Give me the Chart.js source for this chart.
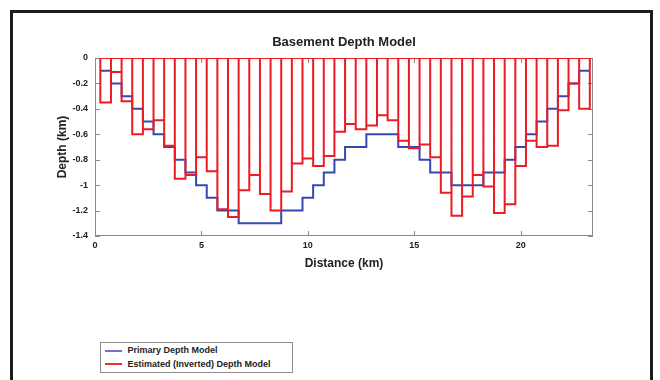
<!DOCTYPE html>
<html>
<head>
<meta charset="utf-8">
<script src="https://cdn.jsdelivr.net/npm/chart.js@4.4.0/dist/chart.umd.min.js"></script>
<style>
  body { margin: 0; background: #fff; }
  #wrap { position: relative; width: 660px; height: 380px; overflow: hidden; }
  #frame { position: absolute; left: 10px; top: 10px; width: 637px; height: 420px; border: 3px solid #1c1c1c; }
  canvas { position: absolute; left: 0; top: 0; }
  #legend { position: absolute; left: 100px; top: 342px; width: 193px; height: 31px; box-sizing: border-box;
            border: 1.5px solid #8c8c8c; background: #fff;
            font: bold 9px "Liberation Sans", Arial, sans-serif; color: #222; }
  .row { position: absolute; left: 3.5px; height: 12px; line-height: 12px; white-space: nowrap; }
  .row i { display: inline-block; width: 17px; height: 2px; vertical-align: middle; margin-right: 6px; }
</style>
</head>
<body>
<div id="wrap">
  <div id="frame"></div>
  <canvas id="grafico" width="660" height="380"></canvas>
  <div id="legend">
    <div class="row" style="top:1px"><i style="background:#6f74c4"></i>Primary Depth Model</div>
    <div class="row" style="top:14.5px"><i style="background:#e8303a"></i>Estimated (Inverted) Depth Model</div>
  </div>
</div>
<script>
// distancias (km) - centro de cada bloco
const distancia = [0.5, 1, 1.5, 2, 2.5, 3, 3.5, 4, 4.5, 5, 5.5, 6, 6.5, 7, 7.5, 8, 8.5, 9, 9.5, 10,
  10.5, 11, 11.5, 12, 12.5, 13, 13.5, 14, 14.5, 15, 15.5, 16, 16.5, 17, 17.5, 18, 18.5, 19, 19.5, 20,
  20.5, 21, 21.5, 22, 22.5, 23];
const profPrimaria = [-0.1, -0.2, -0.3, -0.4, -0.5, -0.6, -0.7, -0.8, -0.9, -1.0, -1.1, -1.2, -1.2, -1.3, -1.3, -1.3,
  -1.3, -1.2, -1.2, -1.1, -1.0, -0.9, -0.8, -0.7, -0.7, -0.6, -0.6, -0.6, -0.7, -0.7, -0.8, -0.9,
  -0.9, -1.0, -1.0, -1.0, -0.9, -0.9, -0.8, -0.7, -0.6, -0.5, -0.4, -0.3, -0.2, -0.1];
const profEstimada = [-0.35, -0.11, -0.34, -0.60, -0.56, -0.49, -0.69, -0.95, -0.92, -0.78, -0.89, -1.19, -1.25, -1.04, -0.92, -1.07,
  -1.20, -1.05, -0.83, -0.79, -0.85, -0.77, -0.58, -0.52, -0.56, -0.53, -0.45, -0.49, -0.65, -0.71, -0.68, -0.78,
  -1.06, -1.24, -1.09, -0.92, -1.01, -1.22, -1.15, -0.85, -0.65, -0.70, -0.69, -0.41, -0.20, -0.40];
const ticksX = [0, 5, 10, 15, 20];
const ticksY = [0, -0.2, -0.4, -0.6, -0.8, -1, -1.2, -1.4];
const larguraBloco = 0.5;
const meio = larguraBloco / 2;

Chart.defaults.font.family = '"Liberation Sans", Arial, sans-serif';
Chart.defaults.color = '#222';

// contorno dos blocos estimados (cada bloco vai de 0 ate a profundidade)
const contornoEstimado = distancia.flatMap((d, i) => [
  {x: d - meio, y: 0}, {x: d - meio, y: profEstimada[i]},
  {x: d + meio, y: profEstimada[i]}, {x: d + meio, y: 0}
]);
contornoEstimado.push({x: distancia[0] - meio, y: 0});

// degraus do modelo primario
const degrausPrimario = distancia.flatMap((d, i) => [
  {x: d - meio, y: profPrimaria[i]}, {x: d + meio, y: profPrimaria[i]}
]);

// caixa dos eixos com marcas para dentro (estilo matlab)
const caixaEixos = {
  id: 'caixaEixos',
  beforeDatasetsDraw(chart) {
    const {ctx, chartArea: a, scales: {x, y}} = chart;
    ctx.save();
    ctx.strokeStyle = '#8a8a8a';
    ctx.lineWidth = 1;
    ctx.strokeRect(a.left + 0.5, a.top + 0.5, a.width - 1, a.height - 1);
    ctx.beginPath();
    x.ticks.forEach(t => {
      const px = Math.round(x.getPixelForValue(t.value)) + 0.5;
      ctx.moveTo(px, a.bottom); ctx.lineTo(px, a.bottom - 5);
      ctx.moveTo(px, a.top); ctx.lineTo(px, a.top + 5);
    });
    y.ticks.forEach(t => {
      const py = Math.round(y.getPixelForValue(t.value)) + 0.5;
      ctx.moveTo(a.left, py); ctx.lineTo(a.left + 5, py);
      ctx.moveTo(a.right, py); ctx.lineTo(a.right - 5, py);
    });
    ctx.stroke();
    ctx.restore();
  }
};

new Chart(document.getElementById('grafico'), {
  type: 'line',
  data: {
    datasets: [{
      label: 'Estimated (Inverted) Depth Model',
      data: contornoEstimado,
      borderColor: '#ec1c24',
      borderWidth: 2,
      borderJoinStyle: 'miter',
      pointRadius: 0,
      tension: 0,
      fill: false,
      order: 0
    }, {
      label: 'Primary Depth Model',
      data: degrausPrimario,
      borderColor: '#3449b0',
      borderWidth: 2,
      borderJoinStyle: 'miter',
      pointRadius: 0,
      tension: 0,
      fill: false,
      order: 1
    }]
  },
  options: {
    responsive: false,
    animation: false,
    layout: {padding: {left: 55, right: 67, top: 28, bottom: 109}},
    plugins: {
      legend: {display: false},
      tooltip: {enabled: false},
      title: {
        display: true,
        text: 'Basement Depth Model',
        fullSize: false,
        color: '#222',
        font: {size: 13, weight: 'bold'},
        padding: {top: 7, bottom: 7.4}
      }
    },
    scales: {
      x: {
        type: 'linear',
        min: 0,
        max: 23.4,
        grid: {display: false, drawTicks: false},
        border: {display: false},
        afterBuildTicks: s => { s.ticks = ticksX.map(v => ({value: v})); },
        afterFit: s => { s.height = 35; },
        ticks: {font: {size: 9, weight: 'bold'}, padding: 4, autoSkip: false, maxRotation: 0,
                callback: v => String(v)},
        title: {display: true, text: 'Distance (km)', font: {size: 12, weight: 'bold'}, padding: 0}
      },
      y: {
        min: -1.4,
        max: 0,
        grid: {display: false, drawTicks: false},
        border: {display: false},
        afterBuildTicks: s => { s.ticks = ticksY.map(v => ({value: v})); },
        afterFit: s => { s.width = 40; },
        ticks: {font: {size: 9, weight: 'bold'}, padding: 7,
                callback: v => String(Math.round(v * 10) / 10 || 0)},
        title: {display: true, text: 'Depth (km)', font: {size: 12, weight: 'bold'}, padding: 0}
      }
    }
  },
  plugins: [caixaEixos]
});
</script>
</body>
</html>
